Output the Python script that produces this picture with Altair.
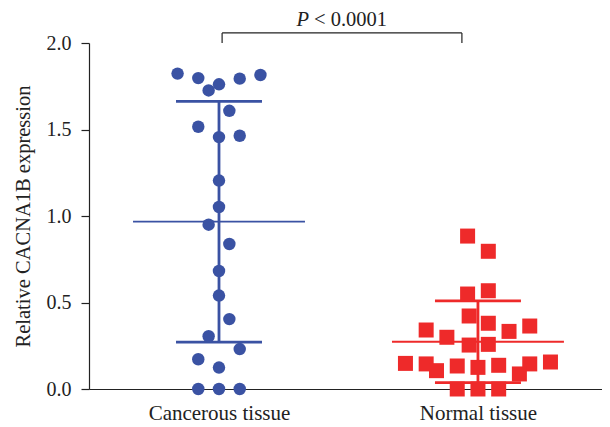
import altair as alt
import pandas as pd

# ---- data ----
groups = ["Cancerous tissue", "Normal tissue"]
group_pos = [1.0, 2.0]

cancer_values = [1.823, 1.797, 1.761, 1.726, 1.794, 1.815, 1.608, 1.516, 1.456, 1.464,
                 1.205, 1.052, 0.950, 0.838, 0.682, 0.540, 0.404, 0.305, 0.231, 0.172,
                 0.124, 0.0, 0.0, 0.0]
cancer_cols = [-4, -2, 0, -1, 2, 4, 1, -2, 0, 2,
               0, 0, -1, 1, 0, 0, 1, -1, 2, -2,
               0, -2, 0, 2]

normal_values = [0.884, 0.796, 0.549, 0.568, 0.422, 0.380, 0.341, 0.333, 0.364, 0.299,
                 0.254, 0.258, 0.148, 0.145, 0.106, 0.133, 0.125, 0.137, 0.145, 0.156,
                 0.087, 0.0, 0.0, 0.0]
normal_cols = [-1, 1, -1, 1, -0.85, 1, -5, 3, 5, -3,
               -0.85, 1, -7, -5, -4, -2, 0, 2, 5, 7,
               4, -2, 0, 2]

means = [0.967, 0.273]
sds = [0.696, 0.236]
colors = ["#3A52A3", "#EE2A2A"]
shapes = ["circle", "square"]
y_ticks = [0.0, 0.5, 1.0, 1.5, 2.0]
p_parts = ["P", "< 0.0001"]

# layout constants (data units)
col_step = 0.04
mean_half = 0.332
cap_half = 0.166
bracket_left = 1.012
bracket_right = 1.938
bracket_y = 2.058
text_y = 2.1

FONT = "Liberation Serif"

# ---- tables ----
pts = pd.DataFrame({
    "group": [groups[0]] * len(cancer_values) + [groups[1]] * len(normal_values),
    "value": cancer_values + normal_values,
    "col": cancer_cols + normal_cols,
})
pts["x"] = pts["group"].map(dict(zip(groups, group_pos))) + pts["col"] * col_step

summ = pd.DataFrame({"group": groups, "pos": group_pos, "mean": means, "sd": sds})
summ["lo"] = summ["mean"] - summ["sd"]
summ["hi"] = summ["mean"] + summ["sd"]
summ["m1"] = summ["pos"] - mean_half
summ["m2"] = summ["pos"] + mean_half
summ["c1"] = summ["pos"] - cap_half
summ["c2"] = summ["pos"] + cap_half

color_scale = alt.Scale(domain=groups, range=colors)
shape_scale = alt.Scale(domain=groups, range=shapes)
xscale = alt.Scale(domain=[0.498, 2.479], nice=False, zero=False)
yscale = alt.Scale(domain=[0, 2], nice=False, zero=False)

xaxis = alt.Axis(values=group_pos, title=None, grid=False,
                 labelExpr="datum.value == 1 ? 'Cancerous tissue' : 'Normal tissue'",
                 tickSize=5, labelPadding=8, labelFontSize=21)
yaxis = alt.Axis(values=y_ticks, format=".1f", title="Relative CACNA1B expression",
                 grid=False, tickSize=8, labelPadding=10, labelFontSize=20,
                 titleFontSize=20.5, titleFontWeight="normal", titlePadding=13)


def X(field):
    return alt.X(field, type="quantitative", scale=xscale, axis=xaxis)


def Y(field):
    return alt.Y(field, type="quantitative", scale=yscale, axis=yaxis)


base = alt.Chart(summ)
mean_rule = base.mark_rule(strokeWidth=1.8).encode(
    x=X("m1"), x2="m2", y=Y("mean"),
    color=alt.Color("group:N", scale=color_scale, legend=None))
cap_hi = base.mark_rule(strokeWidth=2.8).encode(
    x=X("c1"), x2="c2", y=Y("hi"),
    color=alt.Color("group:N", scale=color_scale, legend=None))
cap_lo = base.mark_rule(strokeWidth=2.8).encode(
    x=X("c1"), x2="c2", y=Y("lo"),
    color=alt.Color("group:N", scale=color_scale, legend=None))
vert = base.mark_rule(strokeWidth=2.8).encode(
    x=X("pos"), y=Y("lo"), y2="hi",
    color=alt.Color("group:N", scale=color_scale, legend=None))

points = alt.Chart(pts).mark_point(filled=True, opacity=1).encode(
    x=X("x"), y=Y("value"),
    color=alt.Color("group:N", scale=color_scale, legend=None),
    shape=alt.Shape("group:N", scale=shape_scale, legend=None),
    size=alt.Size("group:N", scale=alt.Scale(domain=groups, range=[155, 225]), legend=None),
)

br = pd.DataFrame({
    "x1": [bracket_left, bracket_left, bracket_right],
    "x2": [bracket_right, bracket_left, bracket_right],
    "y1": [bracket_y, bracket_y, bracket_y],
    "y2": [bracket_y, 2.0, 2.0],
})
bracket = alt.Chart(br).mark_rule(color="#222222", strokeWidth=1.2).encode(
    x=X("x1"), x2="x2", y=Y("y1"), y2="y2")

mid = (bracket_left + bracket_right) / 2
txt = pd.DataFrame({"x": [mid], "y": [text_y], "p": [p_parts[0]], "rest": [p_parts[1]]})
p_mark = alt.Chart(txt).mark_text(font=FONT, fontSize=20.5, fontStyle="italic", align="right",
                                  baseline="alphabetic", dx=-33, color="#222222").encode(
    x=X("x"), y=Y("y"), text="p:N")
rest_mark = alt.Chart(txt).mark_text(font=FONT, fontSize=20.5, align="left",
                                     baseline="alphabetic", dx=-28, color="#222222").encode(
    x=X("x"), y=Y("y"), text="rest:N")

chart = alt.layer(mean_rule, cap_hi, cap_lo, vert, points, bracket, p_mark, rest_mark).properties(
    width=513, height=346,
    padding={"left": 81, "top": 35, "right": 0, "bottom": 38},
    autosize=alt.AutoSizeParams(type="none"),
).configure_view(stroke=None).configure_axis(
    labelFont=FONT, titleFont=FONT, labelColor="#222222", titleColor="#222222",
    domainColor="#222222", tickColor="#222222", domainWidth=1.2, tickWidth=1.2,
)

chart.save("out.html", embed_options={"renderer": "svg", "actions": False})
